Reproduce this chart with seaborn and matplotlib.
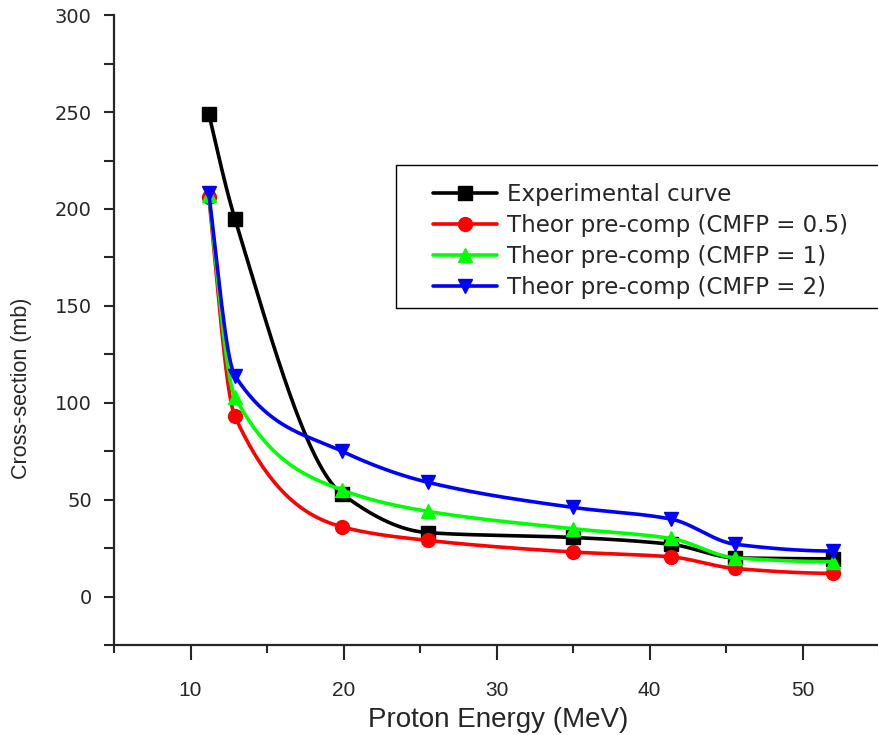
import numpy as np
import pandas as pd
import matplotlib
matplotlib.use("Agg")
import matplotlib.pyplot as plt
import seaborn as sns
from matplotlib.ticker import MultipleLocator
from matplotlib.patches import Rectangle

energy = [11.2, 12.9, 19.9, 25.5, 35.0, 41.4, 45.6, 52.0]
experimental = [249, 195, 53, 33, 30.5, 27, 20, 19.5]
cmfp_05 = [206, 93, 36, 29, 23, 20.5, 14.5, 12]
cmfp_1 = [207, 103, 55, 44, 35, 30, 20, 18]
cmfp_2 = [208, 114, 75, 59, 46, 40, 27, 23.5]

labels = ["Experimental curve", "Theor pre-comp (CMFP = 0.5)",
          "Theor pre-comp (CMFP = 1)", "Theor pre-comp (CMFP = 2)"]
series = [experimental, cmfp_05, cmfp_1, cmfp_2]
colors = ["#000000", "#ff0000", "#00ff00", "#0000ff"]
markers = ["s", "o", "^", "v"]


def pchip(x, y, n=400):
    x = np.asarray(x, float); y = np.asarray(y, float)
    h = np.diff(x); delta = np.diff(y) / h
    k = len(x); d = np.zeros(k)
    for i in range(1, k - 1):
        if delta[i - 1] * delta[i] > 0:
            w1 = 2 * h[i] + h[i - 1]; w2 = h[i] + 2 * h[i - 1]
            d[i] = (w1 + w2) / (w1 / delta[i - 1] + w2 / delta[i])
    d[0] = ((2 * h[0] + h[1]) * delta[0] - h[0] * delta[1]) / (h[0] + h[1])
    if np.sign(d[0]) != np.sign(delta[0]):
        d[0] = 0
    d[-1] = ((2 * h[-1] + h[-2]) * delta[-1] - h[-1] * delta[-2]) / (h[-1] + h[-2])
    if np.sign(d[-1]) != np.sign(delta[-1]):
        d[-1] = 0
    xs = np.linspace(x[0], x[-1], n)
    idx = np.clip(np.searchsorted(x, xs) - 1, 0, k - 2)
    t = (xs - x[idx]) / h[idx]
    h00 = 2 * t**3 - 3 * t**2 + 1; h10 = t**3 - 2 * t**2 + t
    h01 = -2 * t**3 + 3 * t**2; h11 = t**3 - t**2
    ys = h00 * y[idx] + h10 * h[idx] * d[idx] + h01 * y[idx + 1] + h11 * h[idx] * d[idx + 1]
    return xs, ys


sns.set_style("ticks")
plt.rcParams['font.family'] = ['Liberation Sans', 'DejaVu Sans']

fig = plt.figure(figsize=(8.79, 7.35), dpi=100)
ax = fig.add_axes([0.1297, 0.1224, 0.8703, 0.857])

for lab, vals, col, mk in zip(labels, series, colors, markers):
    xs, ys = pchip(energy, vals)
    sns.lineplot(x=xs, y=ys, ax=ax, color=col, lw=2.6, sort=False, legend=False)
    ax.plot(energy, vals, linestyle="none", marker=mk, color=col, markersize=10)

# legend frame
ax.add_patch(Rectangle((0.3686, 0.535), 0.64, 0.227, transform=ax.transAxes,
                       facecolor="white", edgecolor="black", lw=1.0,
                       clip_on=False, zorder=4))
handles = [plt.Line2D([], [], color=c, marker=m, lw=2.6, markersize=10)
           for c, m in zip(colors, markers)]
leg = ax.legend(handles, labels, loc="upper left", bbox_to_anchor=(0.417, 0.734),
                frameon=False, prop={"family": "DejaVu Sans", "size": 16.5},
                handlelength=2.8, handletextpad=0.42, borderpad=0,
                labelspacing=0.36, borderaxespad=0)
leg.set_zorder(5)

ax.set_xlim(5, 55)
ax.set_ylim(-25, 300)
ax.xaxis.set_major_locator(MultipleLocator(10))
ax.xaxis.set_minor_locator(MultipleLocator(5))
ax.yaxis.set_minor_locator(MultipleLocator(25))
ax.set_yticks([0, 50, 100, 150, 200, 250, 300])
ax.tick_params(axis="x", which="major", length=11, width=1.5, labelsize=15, pad=15)
ax.tick_params(axis="x", which="minor", length=6, width=1.5)
ax.tick_params(axis="y", which="both", length=7, width=1.5, labelsize=14, pad=9)
for t in ax.get_yticklabels():
    t.set_family("DejaVu Sans")
for s in ["top", "right"]:
    ax.spines[s].set_visible(False)
for s in ["left", "bottom"]:
    ax.spines[s].set_linewidth(1.6)

ax.set_xlabel("Proton Energy (MeV)", fontsize=20)
ax.xaxis.set_label_coords(0.502, -0.099)
ax.set_ylabel("Cross-section (mb)", fontsize=15.5)
ax.yaxis.set_label_coords(-0.107, 0.408)

fig.savefig("out.png", dpi=100)
